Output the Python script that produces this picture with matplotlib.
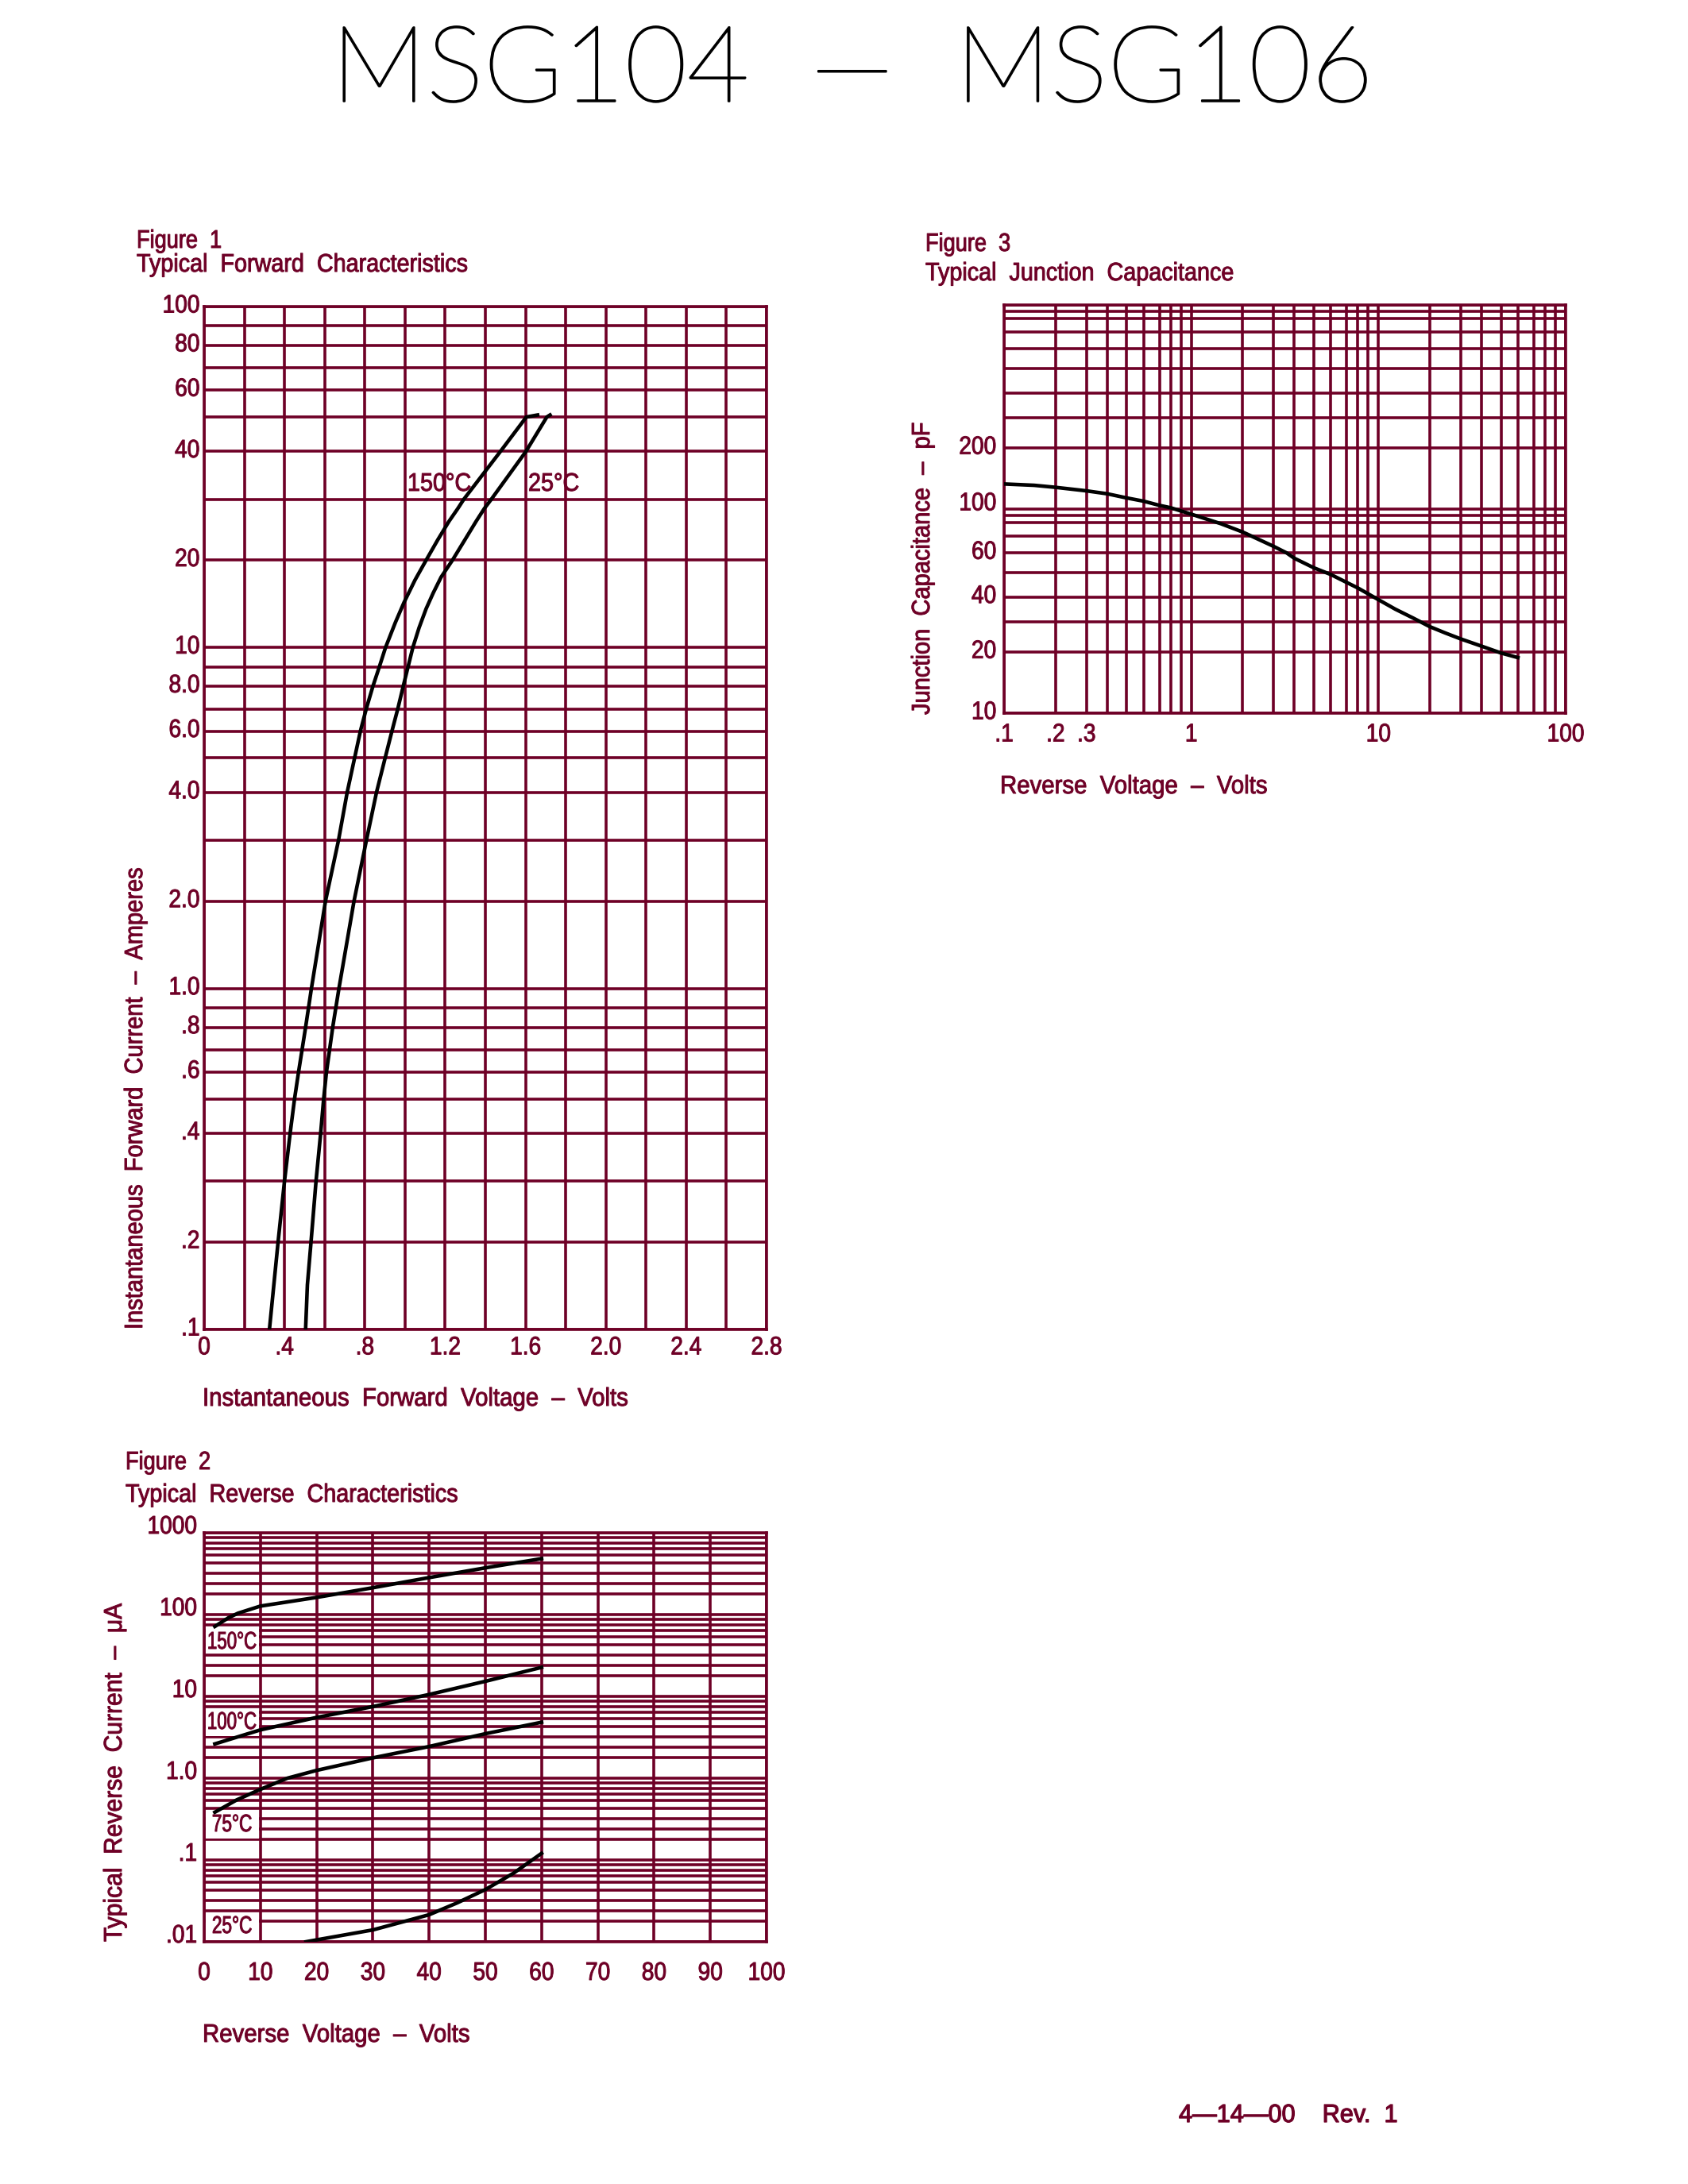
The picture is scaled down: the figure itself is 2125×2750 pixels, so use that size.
import numpy as np
import matplotlib
matplotlib.use("Agg")
import matplotlib.pyplot as plt
from matplotlib.patches import Rectangle
from matplotlib.patheffects import AbstractPathEffect
from matplotlib.transforms import Affine2D, IdentityTransform

W, H = 2125, 2750
MAROON = "#6e0026"
plt.rcParams['font.family'] = ['Liberation Sans', 'DejaVu Sans']

# grid spacing of the printed log paper (not quite true log)
fig1_paper = [.256, .435, .575, .676, .755, .82, .886, .943]
fig2_paper = [.252, .377, .503, .632, .729, .803, .875, .942]
fig3_x_paper = [.275, .44, .55, .655, .745, .83, .89, .945]
fig3_y_paper = [.299, .446, .569, .687, .785, .866, .932, .968]

# figure 1 - forward characteristics
vf_150 = [.325, .368, .40, .428, .45, .47, .505, .534, .604, .669, .712, .749, .778, .807, .84, .872, .903, .952, .995, 1.05, 1.105, 1.163, 1.219, 1.263, 1.293, 1.475, 1.604, 1.66]
if_150 = [.1, .2, .3, .4, .5, .6, .8, 1, 2, 3, 4, 5, 6, 7, 8, 9, 10, 12.2, 14.3, 17.1, 20, 22.9, 25.9, 28.2, 30, 40, 50, 50.7]
vf_25 = [.505, .514, .532, .557, .58, .595, .609, .64, .671, .746, .808, .858, .901, .935, .964, .991, 1.015, 1.039, 1.07, 1.105, 1.14, 1.18, 1.236, 1.298, 1.354, 1.395, 1.43, 1.602, 1.706, 1.722]
if_25 = [.1, .1425, .2, .3, .4, .5, .6, .8, 1, 2, 3, 4, 5, 6, 7, 8, 9, 10, 11.7, 13.6, 15.4, 17.5, 20, 22.9, 25.9, 28.2, 30, 40, 50, 50.7]
fig1_xticks = [0, .4, .8, 1.2, 1.6, 2.0, 2.4, 2.8]
fig1_xlabels = ['0', '.4', '.8', '1.2', '1.6', '2.0', '2.4', '2.8']
fig1_yticks = [.1, .2, .4, .6, .8, 1, 2, 4, 6, 8, 10, 20, 40, 60, 80, 100]
fig1_ylabels = ['.1', '.2', '.4', '.6', '.8', '1.0', '2.0', '4.0', '6.0', '8.0', '10', '20', '40', '60', '80', '100']

# figure 2 - reverse characteristics
vr_150 = [1.9, 4.3, 6, 10, 20, 30, 40, 50, 60]
ir_150 = [77, 93, 104.5, 133, 178, 256, 356, 450, 551]
vr_100 = [1.9, 10, 20, 30, 40, 50, 60]
ir_100 = [3.3, 4.65, 6.17, 8.0, 10.65, 16.6, 27.9]
vr_75 = [1.9, 5.8, 10, 14.8, 20, 30, 40, 50, 60]
ir_75 = [.46, .607, .783, 1.0, 1.30, 1.98, 3.07, 4.29, 5.51]
vr_25 = [18.1, 20, 30, 40, 45, 50, 55, 60]
ir_25 = [.01, .01066, .0149, .0258, .0376, .0506, .0747, .125]
fig2_xticks = list(range(0, 101, 10))
fig2_yticks = [.01, .1, 1, 10, 100, 1000]
fig2_ylabels = ['.01', '.1', '1.0', '10', '100', '1000']

# figure 3 - junction capacitance
vr_cap = [.1, .15, .2, .3, .4, .5, .6, .7, .8, 1, 1.49, 2, 3, 3.6, 4, 5, 6, 7, 8, 9, 10, 12.55, 16, 20, 24.5, 30, 40, 50, 60]
cap_pf = [133, 131, 128, 123, 119, 113.5, 109.4, 104.3, 101.5, 92.1, 79.4, 73.1, 63.8, 60, 57.2, 52.4, 49.3, 45.8, 43.5, 41.2, 38.8, 34.8, 31.4, 28.2, 25.9, 23.9, 21.7, 19.8, 18.8]
fig3_xticks = [.1, .2, .3, 1, 10, 100]
fig3_xlabels = ['.1', '.2', '.3', '1', '10', '100']
fig3_yticks = [10, 20, 40, 60, 100, 200]
fig3_ylabels = ['10', '20', '40', '60', '100', '200']


class Squeeze(AbstractPathEffect):
    # narrows a text about an anchor (the plotter font is tall and thin) and fattens the strokes
    def __init__(self, factor, anchor, vertical=False, stroke=.7):
        super().__init__()
        self.factor, self.anchor, self.vertical, self.stroke = factor, anchor, vertical, stroke

    def draw_path(self, renderer, gc, tpath, affine, rgbFace=None):
        if self.vertical:
            squeeze = Affine2D().translate(0, -self.anchor).scale(1, self.factor).translate(0, self.anchor)
        else:
            squeeze = Affine2D().translate(-self.anchor, 0).scale(self.factor, 1).translate(self.anchor, 0)
        gc0 = renderer.new_gc()
        gc0.copy_properties(gc)
        gc0.set_linewidth(self.stroke)
        gc0.set_foreground(rgbFace)
        renderer.draw_path(gc0, tpath, affine + squeeze, rgbFace)
        gc0.restore()


def paper_scale(fracs):
    logs = np.log10(np.arange(1, 11))
    paper = np.array([0] + fracs + [1])

    def fwd(v):
        lg = np.log10(np.maximum(v, 1e-9))
        d = np.floor(lg)
        return d + np.interp(lg - d, logs, paper)

    def inv(p):
        d = np.floor(p)
        return 10 ** (d + np.interp(p - d, paper, logs))
    return fwd, inv


def decade_lines(lo, hi):
    out = []
    for e in range(lo, hi):
        out += [m * 10.0 ** e for m in range(1, 10)]
    return out + [10.0 ** hi]


def make_axes(left, right, top, bottom):
    ax = fig.add_axes([left / W, 1 - bottom / H, (right - left) / W, (bottom - top) / H])
    for s in ax.spines.values():
        s.set_color(MAROON)
        s.set_linewidth(2.6)
    return ax


def finish_grid(ax, xpad, ypad, size=23):
    ax.grid(which='both', color=MAROON, linewidth=2.6)
    ax.tick_params(which='both', length=0, labelcolor=MAROON, labelsize=size)
    ax.tick_params(axis='x', pad=xpad)
    ax.tick_params(axis='y', pad=ypad)


def lift_ylabels(ax, px):
    for lab in ax.get_yticklabels():
        lab.set_transform(lab.get_transform() + Affine2D().translate(0, px))


def put_text(x, y, s, size=23, sx=.9, stroke=.7, **kw):
    kw.setdefault('color', MAROON)
    kw.setdefault('ha', 'left')
    kw.setdefault('va', 'center')
    t = fig.text(x / W, 1 - y / H, s, fontsize=size, **kw)
    if kw.get('rotation') == 90:
        t.set_path_effects([Squeeze(sx, H - y, vertical=True, stroke=stroke)])
    else:
        t.set_path_effects([Squeeze(sx, x, stroke=stroke)])
    return t


fig = plt.figure(figsize=(W / 100, H / 100), dpi=100, facecolor='white')

# Figure 1
ax1 = make_axes(257, 965, 386, 1674)
ax1.set_yscale('function', functions=paper_scale(fig1_paper))
ax1.set_xlim(0, 2.8)
ax1.set_ylim(.1, 100)
ax1.set_xticks(fig1_xticks, labels=fig1_xlabels)
ax1.set_xticks(np.arange(0, 2.81, .2), minor=True)
ax1.set_yticks(fig1_yticks, labels=fig1_ylabels)
ax1.set_yticks(decade_lines(-1, 2), minor=True)
finish_grid(ax1, 6, 4)
lift_ylabels(ax1, 4)
ax1.plot(vf_150, if_150, color='black', lw=3.3, zorder=3)
ax1.plot(vf_25, if_25, color='black', lw=3.3, zorder=3)

# Figure 2
ax2 = make_axes(257, 965, 1930, 2445)
ax2.set_yscale('function', functions=paper_scale(fig2_paper))
ax2.set_xlim(0, 100)
ax2.set_ylim(.01, 1000)
ax2.set_xticks(fig2_xticks, labels=[str(v) for v in fig2_xticks])
ax2.set_yticks(fig2_yticks, labels=fig2_ylabels)
ax2.set_yticks(decade_lines(-2, 3), minor=True)
finish_grid(ax2, 18, 6.5)
lift_ylabels(ax2, 10.5)
for v, i in [(vr_150, ir_150), (vr_100, ir_100), (vr_75, ir_75), (vr_25, ir_25)]:
    ax2.plot(v, i, color='black', lw=3.3, zorder=3)

# white boxes behind the temperature labels
for y0, y1 in [(2048, 2082), (2152, 2186), (2280, 2315), (2408, 2443)]:
    ax2.add_patch(Rectangle((259, H - y1), 67, y1 - y0, transform=IdentityTransform(),
                            facecolor='white', edgecolor='none', zorder=2))

# Figure 3
ax3 = make_axes(1264, 1971, 384, 898)
ax3.set_xscale('function', functions=paper_scale(fig3_x_paper))
ax3.set_yscale('function', functions=paper_scale(fig3_y_paper))
ax3.set_xlim(.1, 100)
ax3.set_ylim(10, 1000)
ax3.set_xticks(fig3_xticks, labels=fig3_xlabels)
ax3.set_xticks(decade_lines(-1, 2), minor=True)
ax3.set_yticks(fig3_yticks, labels=fig3_ylabels)
ax3.set_yticks(decade_lines(1, 3), minor=True)
finish_grid(ax3, 9, 7)
lift_ylabels(ax3, 4)
# the 100 sits higher than its line in the original
lab100 = ax3.get_yticklabels()[fig3_ylabels.index('100')]
lab100.set_transform(lab100.get_transform() + Affine2D().translate(0, 6))
ax3.plot(vr_cap, cap_pf, color='black', lw=3.3, zorder=3)

# titles and labels
put_text(1073, 92, 'MSG104  \u2014  MSG106', size=96, ha='center', color='black', sx=1.012,
         stroke=1.6, family=['Lato', 'DejaVu Sans'], weight=100)

put_text(172, 304, 'Figure  1', sx=.85)
put_text(172, 334, 'Typical  Forward  Characteristics')
put_text(255, 1762, 'Instantaneous  Forward  Voltage  \u2013  Volts', sx=.92)
put_text(171, 1674, 'Instantaneous  Forward  Current  \u2013  Amperes', sx=.91, rotation=90, ha='center', va='bottom')
put_text(513, 610, '150\u00b0C')
put_text(665, 610, '25\u00b0C')

put_text(158, 1842, 'Figure  2', sx=.85)
put_text(158, 1883, 'Typical  Reverse  Characteristics')
put_text(255, 2563, 'Reverse  Voltage  \u2013  Volts', sx=.92)
put_text(145, 2445, 'Typical  Reverse  Current  \u2013  \u03bcA', sx=.94, rotation=90, ha='center', va='bottom')
put_text(292, 2068, '150\u00b0C', size=22, sx=.73, ha='center')
put_text(292, 2169, '100\u00b0C', size=22, sx=.73, ha='center')
put_text(292, 2298, '75\u00b0C', size=22, sx=.74, ha='center')
put_text(292, 2426, '25\u00b0C', size=22, sx=.74, ha='center')

put_text(1165, 308, 'Figure  3', sx=.85)
put_text(1165, 345, 'Typical  Junction  Capacitance')
put_text(1259, 991, 'Reverse  Voltage  \u2013  Volts', sx=.92)
put_text(1162, 900, 'Junction  Capacitance  \u2013  pF', sx=.91, rotation=90, ha='center', va='bottom')

put_text(1484, 2664, '4\u201414\u201400    Rev.  1', sx=.96, stroke=.9)

# narrow the tick labels too, each about the side that sits at its tick
fig.canvas.draw()
rend = fig.canvas.get_renderer()
for ax in (ax1, ax2, ax3):
    for lab in ax.get_xticklabels():
        box = lab.get_window_extent(rend)
        lab.set_path_effects([Squeeze(.88, (box.x0 + box.x1) / 2)])
    for lab in ax.get_yticklabels():
        box = lab.get_window_extent(rend)
        lab.set_path_effects([Squeeze(.88, box.x1)])

fig.savefig('out.png', dpi=100)
